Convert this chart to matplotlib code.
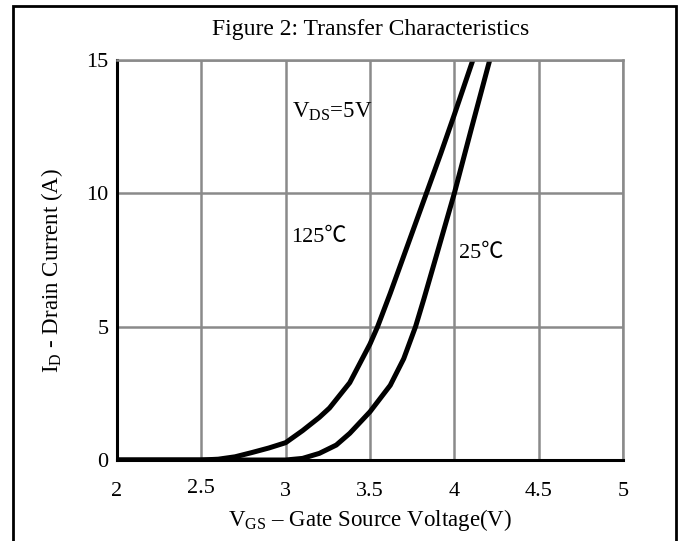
import matplotlib
matplotlib.use("Agg")
import matplotlib.pyplot as plt
import matplotlib.transforms as mtransforms
from matplotlib.patches import Rectangle

plt.rcParams['font.family'] = ['Liberation Serif', 'Noto Sans CJK SC', 'DejaVu Sans']
plt.rcParams['mathtext.fontset'] = 'custom'
plt.rcParams['mathtext.rm'] = 'Liberation Serif'
plt.rcParams['mathtext.it'] = 'Liberation Serif:italic'

# Data
vgs_125 = [2.0, 2.5, 2.6, 2.7, 2.8, 2.9, 3.0, 3.1, 3.2, 3.26, 3.38, 3.5, 3.545, 3.62, 3.72, 3.84, 3.92, 4.0, 4.11]
id_125 = [0, 0, 0.03, 0.12, 0.28, 0.45, 0.65, 1.1, 1.6, 1.95, 2.9, 4.35, 5.0, 6.25, 8.0, 10.1, 11.5, 12.95, 15.0]
vgs_25 = [2.0, 3.0, 3.1, 3.2, 3.3, 3.38, 3.5, 3.62, 3.7, 3.77, 3.82, 3.9, 4.0, 4.1, 4.21]
id_25 = [0, 0, 0.06, 0.25, 0.56, 1.0, 1.81, 2.8, 3.8, 5.0, 6.05, 7.8, 10.0, 12.4, 15.0]
x_ticks = [2, 2.5, 3, 3.5, 4, 4.5, 5]
x_ticklabels = ['2', '2.5', '3', '3.5', '4', '4.5', '5']
y_ticks = [0, 5, 10, 15]
y_ticklabels = ['0', '5', '10', '15']

W, H = 683, 541
fig = plt.figure(figsize=(W / 100, H / 100), dpi=100)
ax = fig.add_axes([117 / W, 1 - 460 / H, (623 - 117) / W, (460 - 60) / H])

grid_c = '#8a8a8a'
ax.set_xlim(2, 5)
ax.set_ylim(0, 15)
ax.set_xticks(x_ticks)
ax.set_xticklabels(x_ticklabels)
ax.set_yticks(y_ticks)
ax.set_yticklabels(y_ticklabels)
ax.grid(True, color=grid_c, linewidth=1.8)
ax.set_axisbelow(True)
ax.tick_params(length=0, labelsize=16)
ax.tick_params(axis='x', pad=16)
ax.tick_params(axis='y', pad=6)
for s in ['top', 'right']:
    ax.spines[s].set_color(grid_c)
    ax.spines[s].set_linewidth(1.8)
for s in ['left', 'bottom']:
    ax.spines[s].set_color('black')
    ax.spines[s].set_linewidth(2.2)

# the "2.5" label sits slightly higher in the reference
lbl = ax.get_xticklabels()[1]
lbl.set_transform(lbl.get_transform() + mtransforms.ScaledTranslation(0, 3 / 100, fig.dpi_scale_trans))

ax.plot(vgs_125, id_125, color='black', linewidth=3.6, solid_joinstyle='round')
ax.plot(vgs_25, id_25, color='black', linewidth=3.6, solid_joinstyle='round')

ax.text(3.04, 13.06, r'V$_{\mathrm{DS}}$=5V', fontsize=16.5, va='center', ha='left')
ax.text(3.03, 8.35, '125℃', fontsize=16, va='center', ha='left')
ax.text(4.03, 7.75, '25℃', fontsize=16, va='center', ha='left')

ax.set_xlabel(r'V$_{\mathrm{GS}}$ – Gate Source Voltage(V)', fontsize=16.5)
ax.xaxis.set_label_coords(0.5, -(520 - 460) / 400, transform=ax.transAxes)
ax.xaxis.label.set_va('center')
ax.set_ylabel(r'I$_{\mathrm{D}}$ - Drain Current (A)', fontsize=16.5)
ax.yaxis.set_label_coords(-(117 - 52) / 506, (460 - 270) / 400, transform=ax.transAxes)
ax.yaxis.label.set_va('center')

fig.text(371 / W, 1 - 30 / H, 'Figure 2: Transfer Characteristics', fontsize=17, ha='center', va='center')

fig.patches.append(Rectangle((13 / W, -10 / H), (676 - 13) / W, (541 + 10 - 6) / H,
                             transform=fig.transFigure, fill=False, edgecolor='black', linewidth=2))

fig.savefig('out.png', dpi=100)
